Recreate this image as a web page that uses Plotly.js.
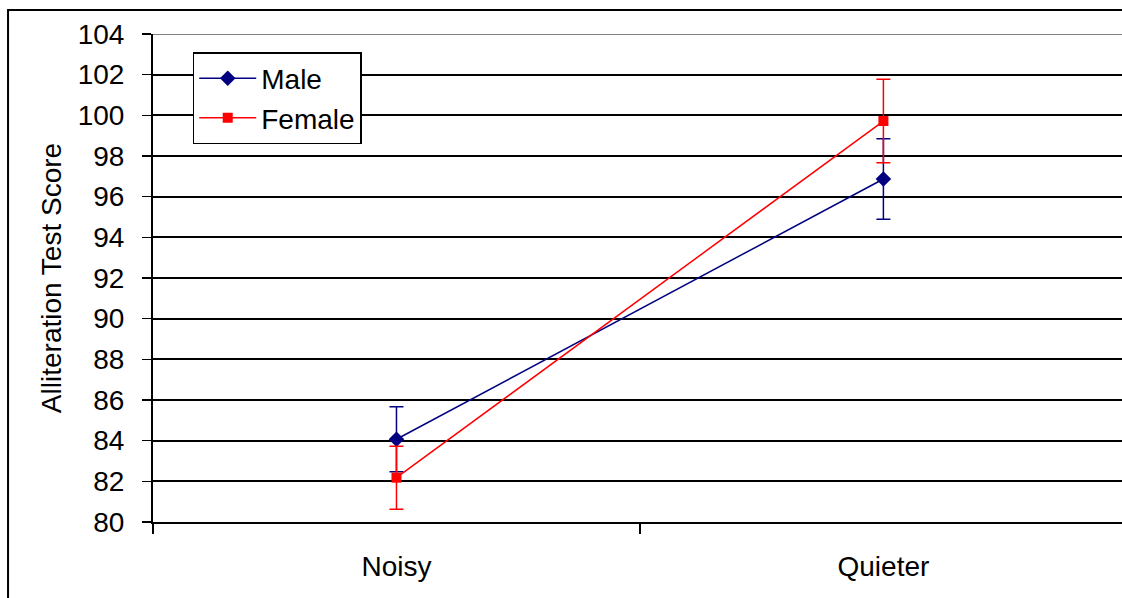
<!DOCTYPE html>
<html>
<head>
<meta charset="utf-8">
<script src="https://cdn.plot.ly/plotly-3.0.1.min.js"></script>
<style>html,body{margin:0;padding:0;overflow:hidden;background:#fff;}</style>
</head>
<body>
<div id="chart" style="width:1122px;height:598px;"></div>
<script>
const categories = ["Noisy", "Quieter"];
const maleScores = [84.07, 96.87];
const maleErrors = [1.6, 1.98];
const femaleScores = [82.18, 99.72];
const femaleErrors = [1.55, 2.05];
const yTicks = [80, 82, 84, 86, 88, 90, 92, 94, 96, 98, 100, 102, 104];

const FONT = "Liberation Sans, Arial, sans-serif";

const traces = [
  {
    x: categories, y: maleScores, name: "Male", type: "scatter", mode: "lines+markers",
    line: {color: "#000080", width: 1.5},
    marker: {symbol: "diamond", size: 12, color: "#000080"},
    error_y: {type: "data", array: maleErrors, visible: true, color: "#000080", thickness: 1.5, width: 7}
  },
  {
    x: categories, y: femaleScores, name: "Female", type: "scatter", mode: "lines+markers",
    line: {color: "#FF0000", width: 1.5},
    marker: {symbol: "square", size: 10, color: "#FF0000"},
    error_y: {type: "data", array: femaleErrors, visible: true, color: "#FF0000", thickness: 1.5, width: 7}
  }
];

const layout = {
  width: 1122, height: 598,
  margin: {l: 153, r: 0, t: 34, b: 76},
  paper_bgcolor: "#fff", plot_bgcolor: "#fff",
  font: {family: FONT, size: 28, color: "#000"},
  showlegend: true,
  legend: {
    x: 0.041, y: 0.963, xanchor: "left", yanchor: "top",
    bgcolor: "#fff", bordercolor: "#000", borderwidth: 1.5,
    font: {family: FONT, size: 28, color: "#000"},
    tracegroupgap: 0, itemwidth: 57
  },
  xaxis: {
    type: "category", range: [-0.5, 1.49],
    tickson: "boundaries", ticks: "outside", ticklen: 10, tickwidth: 1.5, tickcolor: "#000",
    showline: true, linecolor: "#000", linewidth: 2,
    showgrid: false, zeroline: false,
    tickfont: {family: FONT, size: 28, color: "#000"},
    ticklabelstandoff: 18
  },
  yaxis: {
    range: [80, 104], tickvals: yTicks, ticktext: yTicks.map(String),
    ticks: "outside", ticklen: 9, tickwidth: 1.5, tickcolor: "#000",
    showline: true, linecolor: "#000", linewidth: 2,
    showgrid: true, gridcolor: "#000", gridwidth: 2, zeroline: false,
    tickfont: {family: FONT, size: 28, color: "#000"},
    ticklabelstandoff: 12,
    title: {text: "Alliteration Test Score", font: {family: FONT, size: 28, color: "#000"}, standoff: 8}
  },
  shapes: [
    {type: "line", xref: "paper", yref: "y", x0: 0, x1: 1, y0: 104, y1: 104,
     line: {color: "#808080", width: 2}},
    {type: "rect", xref: "paper", yref: "paper", x0: -0.1496, x1: 1.05, y0: -0.3, y1: 1.049,
     line: {color: "#000", width: 2}, fillcolor: "rgba(0,0,0,0)", layer: "below"}
  ]
};

Plotly.newPlot("chart", traces, layout, {displayModeBar: false, staticPlot: true});
</script>
</body>
</html>
